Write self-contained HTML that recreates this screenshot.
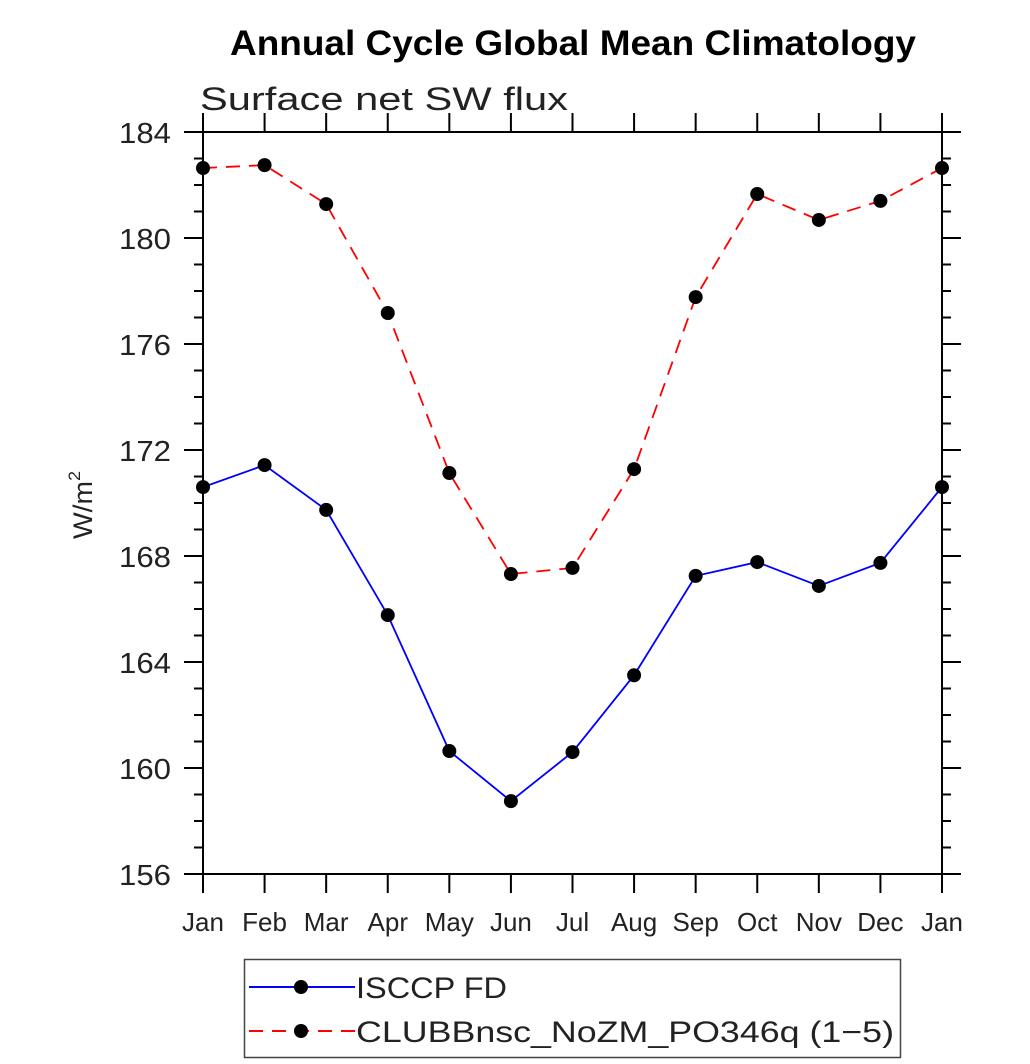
<!DOCTYPE html>
<html><head><meta charset="utf-8"><style>
html,body{margin:0;padding:0;background:#fff;}
svg{display:block;font-family:"Liberation Sans",sans-serif;}
</style></head><body>
<svg id="chart" width="1030" height="1064" viewBox="0 0 1030 1064" xmlns="http://www.w3.org/2000/svg">
<text x="230" y="55" font-size="35" font-weight="bold" textLength="686" lengthAdjust="spacingAndGlyphs">Annual Cycle Global Mean Climatology</text>
<text x="200" y="110" font-size="32" fill="#222" textLength="368" lengthAdjust="spacingAndGlyphs">Surface net SW flux</text>
<text transform="translate(92,505) rotate(-90)" text-anchor="middle" font-size="27" fill="#222" textLength="68" lengthAdjust="spacingAndGlyphs">W/m<tspan font-size="17" dy="-12">2</tspan></text>
<g id="axes"></g>
<g id="series"></g>
<g>
<rect x="244.5" y="959.5" width="656" height="98" fill="none" stroke="#444" stroke-width="1.5"/>
<g>
<line x1="249" y1="987" x2="355" y2="987" stroke="#0000ff" stroke-width="2"/>
<circle cx="301" cy="987" r="7" fill="#000"/>
<text x="356" y="998" font-size="30" fill="#222" textLength="151" lengthAdjust="spacingAndGlyphs">ISCCP FD</text>
</g>
<g>
<line x1="249" y1="1031" x2="355" y2="1031" stroke="#ff0000" stroke-width="2" stroke-dasharray="14,9"/>
<circle cx="301" cy="1031" r="7" fill="#000"/>
<text x="356" y="1042" font-size="30" fill="#222" textLength="538" lengthAdjust="spacingAndGlyphs">CLUBBnsc_NoZM_PO346q (1−5)</text>
</g>
</g>
</svg>
<script>
const months = ["Jan","Feb","Mar","Apr","May","Jun","Jul","Aug","Sep","Oct","Nov","Dec","Jan"];
const isccp = [170.6,171.43,169.74,165.77,160.64,158.75,160.6,163.5,167.25,167.77,166.87,167.74,170.6];
const clubb = [182.64,182.75,181.28,177.17,171.13,167.32,167.55,171.28,177.77,181.66,180.68,181.4,182.64];
const yTicks = [156,160,164,168,172,176,180,184];

const NS="http://www.w3.org/2000/svg";
const X0=203,X1=942,Y0=874,Y1=132,YMIN=156,YMAX=184;
function xs(i){return X0+(X1-X0)*i/(months.length-1);}
function ys(v){return Y0-(v-YMIN)*(Y0-Y1)/(YMAX-YMIN);}
function mk(tag,attrs,parent){const e=document.createElementNS(NS,tag);for(const k in attrs)e.setAttribute(k,attrs[k]);parent.appendChild(e);return e;}
const axes=document.getElementById('axes');
const frame=mk('rect',{x:X0,y:Y1,width:X1-X0,height:Y0-Y1,fill:'none',stroke:'#000','stroke-width':2},axes);


for(let v=YMIN;v<=YMAX;v++){
  const major=(v-YMIN)%4===0;const L=major?19:9;const y=ys(v);
  mk('line',{x1:X0-L,y1:y,x2:X0,y2:y,stroke:'#000','stroke-width':2},axes);
  mk('line',{x1:X1,y1:y,x2:X1+L,y2:y,stroke:'#000','stroke-width':2},axes);
}
yTicks.forEach(v=>{
  const t=mk('text',{x:119,y:ys(v)+11,'font-size':29,fill:'#222',textLength:52,lengthAdjust:'spacingAndGlyphs'},axes);
  t.textContent=v;
  
  
});
months.forEach((m,i)=>{
  const x=xs(i);
  mk('line',{x1:x,y1:Y0,x2:x,y2:Y0+19,stroke:'#000','stroke-width':2},axes);
  mk('line',{x1:x,y1:Y1,x2:x,y2:Y1-19,stroke:'#000','stroke-width':2},axes);
  const t=mk('text',{x:x,y:931,'text-anchor':'middle','font-size':26,fill:'#222'},axes);
  t.textContent=m;
  
  
});
const ser=document.getElementById('series');
function draw(vals,color,dash,name){
  const g=mk('g',{},ser);
  
  
  const pts=vals.map((v,i)=>xs(i)+','+ys(v)).join(' ');
  const a={points:pts,fill:'none',stroke:color,'stroke-width':1.8};
  if(dash)a['stroke-dasharray']=dash;
  mk('polyline',a,g);
  vals.forEach((v,i)=>{
    const c=mk('circle',{cx:xs(i),cy:ys(v),r:7,fill:'#000'},g);
    
    
  });
}
draw(isccp,'#0000ff',null,'series-isccp-fd');
draw(clubb,'#ff0000','14,9','series-clubb');
</script>
</body></html>
